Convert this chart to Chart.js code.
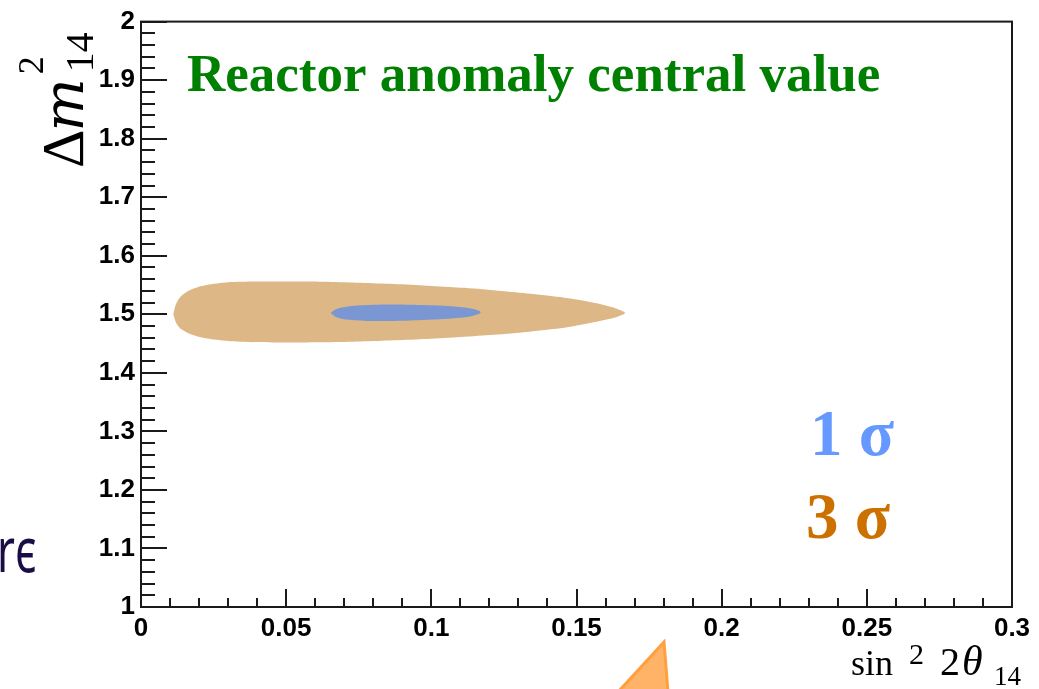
<!DOCTYPE html>
<html>
<head>
<meta charset="utf-8">
<script src="https://cdn.jsdelivr.net/npm/chart.js@4"></script>
<style>
  html, body { margin: 0; padding: 0; background: #fff; }
  #wrap { width: 1039px; height: 689px; }
</style>
</head>
<body>
<div id="wrap"><canvas id="chart" width="1039" height="689"></canvas></div>
<script>
// tick labels
const xTickValues = [0, 0.05, 0.1, 0.15, 0.2, 0.25, 0.3]
const xTickLabels = ["0", "0.05", "0.1", "0.15", "0.2", "0.25", "0.3"]
const yTickValues = [1, 1.1, 1.2, 1.3, 1.4, 1.5, 1.6, 1.7, 1.8, 1.9, 2]
const yTickLabels = ["1", "1.1", "1.2", "1.3", "1.4", "1.5", "1.6", "1.7", "1.8", "1.9", "2"]

// 3 sigma contour (closed outline)
const sigma3X = [0.0111, 0.0123, 0.0146, 0.0192, 0.0261, 0.0341, 0.0456, 0.0571, 0.0685, 0.0800,
    0.0915, 0.1030, 0.1145, 0.1260, 0.1374, 0.1489, 0.1604, 0.1650, 0.1667,
    0.1650, 0.1604, 0.1489, 0.1374, 0.1260, 0.1145, 0.1030, 0.0915, 0.0800, 0.0685,
    0.0571, 0.0456, 0.0341, 0.0261, 0.0192, 0.0146, 0.0123, 0.0111]
const sigma3Y = [1.5005, 1.5203, 1.5344, 1.5458, 1.5525, 1.5554, 1.5559, 1.5559, 1.5548, 1.5531,
    1.5508, 1.5475, 1.5441, 1.5390, 1.5333, 1.5260, 1.5147, 1.5073, 1.5022,
    1.4977, 1.4910, 1.4797, 1.4723, 1.4666, 1.4627, 1.4593, 1.4565, 1.4542, 1.4525,
    1.4520, 1.4520, 1.4531, 1.4565, 1.4627, 1.4723, 1.4836, 1.5005]

// 1 sigma contour
const sigma1X = [0.0653, 0.0674, 0.0708, 0.0777, 0.0858, 0.0972, 0.1087, 0.1145, 0.1170,
    0.1145, 0.1087, 0.0972, 0.0858, 0.0777, 0.0708, 0.0674, 0.0653]
const sigma1Y = [1.5022, 1.5090, 1.5130, 1.5158, 1.5169, 1.5158, 1.5130, 1.5090, 1.5034,
    1.4977, 1.4938, 1.4904, 1.4887, 1.4887, 1.4910, 1.4949, 1.5022]

const toPoints = (xs, ys) => xs.map((v, i) => ({ x: v, y: ys[i] }))

const tickFont = { family: '"Liberation Sans", Arial, sans-serif', size: 26, weight: "bold" }

// ROOT style frame with inner ticks
const frameTicks = {
    id: "frameTicks",
    afterDatasetsDraw(chart) {
        const { ctx, chartArea: a, scales: { x, y } } = chart
        ctx.save()
        ctx.strokeStyle = "#1a1a1a"
        ctx.lineWidth = 2
        ctx.strokeRect(a.left, a.top, a.right - a.left, a.bottom - a.top)
        ctx.beginPath()
        for (let i = 0; i <= 30; i++) {
            const px = Math.round(x.getPixelForValue(i / 100))
            const len = i % 5 === 0 ? 18 : 9
            ctx.moveTo(px, a.bottom)
            ctx.lineTo(px, a.bottom - len)
        }
        for (let i = 0; i <= 50; i++) {
            const py = Math.round(y.getPixelForValue(1 + i / 50))
            const len = i % 5 === 0 ? 26 : 14
            ctx.moveTo(a.left, py)
            ctx.lineTo(a.left + len, py)
        }
        ctx.stroke()
        ctx.restore()
    }
}

const texts = {
    id: "texts",
    afterDraw(chart) {
        const ctx = chart.ctx
        ctx.save()
        ctx.textAlign = "left"
        ctx.textBaseline = "alphabetic"

        ctx.fillStyle = "#008000"
        ctx.font = 'bold 53px "Liberation Serif", "Times New Roman", serif'
        ctx.fillText("Reactor anomaly central value", 187, 91)

        ctx.font = 'bold 65px "Liberation Serif", "Times New Roman", serif'
        ctx.fillStyle = "#6699ff"
        ctx.fillText("1 σ", 810, 455)
        ctx.fillStyle = "#cc7000"
        ctx.fillText("3 σ", 806, 538)

        // x axis title
        ctx.fillStyle = "#000"
        ctx.font = '36px "Liberation Serif", serif'
        ctx.fillText("sin", 851, 675)
        ctx.font = '30px "Liberation Serif", serif'
        ctx.fillText("2", 909, 664)
        ctx.font = '40px "Liberation Serif", serif'
        ctx.fillText("2", 940, 675)
        ctx.font = 'italic 42px "Liberation Serif", serif'
        ctx.fillText("θ", 962, 675)
        ctx.font = '27px "Liberation Serif", serif'
        ctx.fillText("14", 994, 685)

        // y axis title, rotated
        ctx.save()
        ctx.translate(83, 168)
        ctx.rotate(-Math.PI / 2)
        ctx.font = '60px "Liberation Serif", serif'
        ctx.fillText("Δ", 0, 0)
        let w = ctx.measureText("Δ").width
        ctx.font = 'italic 56px "DejaVu Serif", serif'
        ctx.fillText("m", w - 2, 0)
        w += ctx.measureText("m").width + 2
        ctx.font = '36px "Liberation Serif", serif'
        ctx.fillText("2", w, -40)
        ctx.font = '40px "Liberation Serif", serif'
        ctx.fillText("14", w + 2, 10)
        ctx.restore()

        // leftovers of the slide behind the plot
        ctx.save()
        ctx.fillStyle = "#1a0d45"
        ctx.font = '62px "Noto Sans", sans-serif'
        ctx.translate(-3, 572)
        ctx.scale(0.7, 1)
        ctx.fillText("rϵ", 0, 0)
        ctx.restore()

        ctx.beginPath()
        ctx.moveTo(664, 642)
        ctx.lineTo(618, 692)
        ctx.lineTo(668, 692)
        ctx.closePath()
        ctx.fillStyle = "#ffb366"
        ctx.fill()
        ctx.strokeStyle = "#ff9f3f"
        ctx.lineWidth = 3
        ctx.stroke()
        ctx.restore()
    }
}

new Chart(document.getElementById("chart"), {
    type: "scatter",
    data: {
        datasets: [
            {
                label: "1 sigma",
                data: toPoints(sigma1X, sigma1Y),
                showLine: true,
                fill: "shape",
                tension: 0.4,
                borderWidth: 0,
                borderColor: "rgba(0,0,0,0)",
                backgroundColor: "#7a97d3",
                pointRadius: 0,
                order: 1
            },
            {
                label: "3 sigma",
                data: toPoints(sigma3X, sigma3Y),
                showLine: true,
                fill: "shape",
                tension: 0.4,
                borderWidth: 0,
                borderColor: "rgba(0,0,0,0)",
                backgroundColor: "#ddb886",
                pointRadius: 0,
                order: 2
            }
        ]
    },
    options: {
        responsive: false,
        animation: false,
        layout: { padding: { left: 0, top: 17, right: 27, bottom: 0 } },
        plugins: { legend: { display: false }, tooltip: { enabled: false } },
        scales: {
            x: {
                type: "linear",
                min: 0,
                max: 0.3,
                afterBuildTicks: (scale) => { scale.ticks = xTickValues.map(v => ({ value: v })) },
                afterFit: (scale) => { scale.height = 82 },
                grid: { display: false, drawTicks: false },
                border: { display: false },
                ticks: {
                    autoSkip: false,
                    maxRotation: 0,
                    padding: 6,
                    color: "#000",
                    font: tickFont,
                    callback: (v, i) => xTickLabels[i]
                }
            },
            y: {
                type: "linear",
                min: 1,
                max: 2,
                afterBuildTicks: (scale) => { scale.ticks = yTickValues.map(v => ({ value: v })) },
                afterFit: (scale) => { scale.width = 141 },
                grid: { display: false, drawTicks: false },
                border: { display: false },
                ticks: {
                    autoSkip: false,
                    padding: 6,
                    color: "#000",
                    font: tickFont,
                    callback: (v, i) => yTickLabels[i]
                }
            }
        }
    },
    plugins: [frameTicks, texts]
})
</script>
</body>
</html>
